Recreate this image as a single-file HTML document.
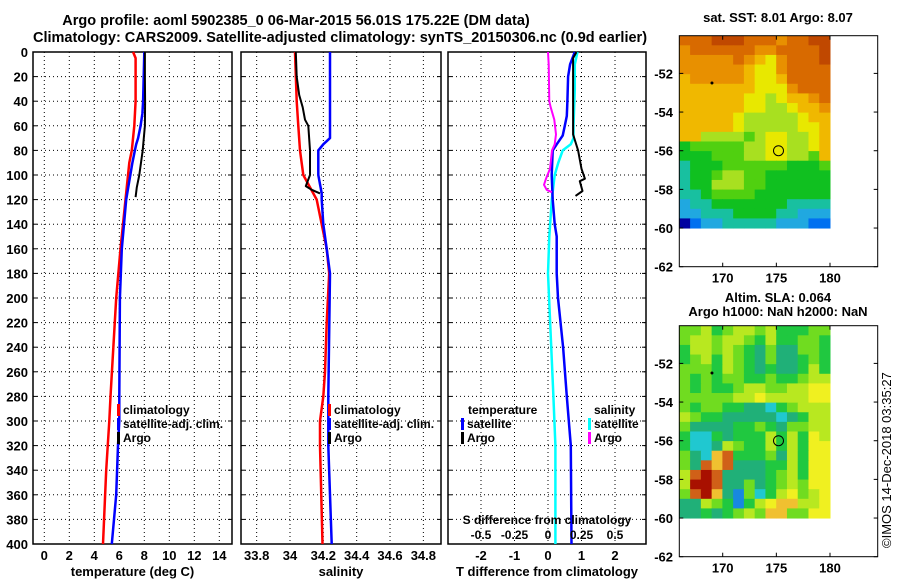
<!DOCTYPE html>
<html><head><meta charset="utf-8"><style>
body{margin:0;background:#fff;}
svg text{font-family:"Liberation Sans",Arial,sans-serif;font-weight:bold;font-size:13px;fill:#000;}
svg text.lg{font-size:12px;}
</style></head><body>
<svg id="s" width="900" height="580" xmlns="http://www.w3.org/2000/svg">
<text x="296" y="25" text-anchor="middle" style="font-size:14.5px">Argo profile: aoml 5902385_0 06-Mar-2015 56.01S 175.22E (DM data)</text>
<text x="340" y="42" text-anchor="middle" style="font-size:14.5px">Climatology: CARS2009. Satellite-adjusted climatology: synTS_20150306.nc (0.9d earlier)</text>
<text x="778" y="22" text-anchor="middle">sat. SST: 8.01 Argo: 8.07</text>
<text x="778" y="302" text-anchor="middle">Altim. SLA: 0.064</text>
<text x="778" y="316" text-anchor="middle">Argo h1000: NaN h2000: NaN</text>
<text transform="translate(891,548) rotate(-90)" style="font-weight:normal;font-size:13px">©IMOS 14-Dec-2018 03:35:27</text>
</svg>
<script>
// ---- data ----
const depthTicks=[0,20,40,60,80,100,120,140,160,180,200,220,240,260,280,300,320,340,360,380,400];
const tempTicks=[0,2,4,6,8,10,12,14];
const salTicks=[33.8,34,34.2,34.4,34.6,34.8];
const tdiffTicks=[-2,-1,0,1,2];
const sdiffTicks=[-0.5,-0.25,0,0.25,0.5];
const tClimDepth=[0,5,40,60,80,90,120,160,200,280,300,340,400];
const tClimVal=[7.1,7.3,7.3,7.2,7.0,6.8,6.5,6.1,5.75,5.3,5.2,4.95,4.7];
const tSatDepth=[0,20,40,50,60,70,75,80,90,120,160,200,280,300,320,360,400];
const tSatVal=[8.0,7.95,7.9,7.85,7.7,7.5,7.35,7.25,7.05,6.55,6.2,6.05,6.0,6.0,5.9,5.75,5.4];
const tArgoDepth=[0,20,40,60,80,100,110,118];
const tArgoVal=[8.05,8.05,8.06,8.05,7.87,7.6,7.4,7.3];
const sClimDepth=[0,40,60,80,100,120,140,160,180,220,260,280,300,320,400];
const sClimVal=[34.03,34.04,34.05,34.06,34.08,34.16,34.19,34.22,34.235,34.22,34.21,34.2,34.18,34.18,34.195];
const sSatDepth=[0,60,70,75,80,100,115,120,140,160,180,280,320,360,400];
const sSatVal=[34.24,34.24,34.24,34.2,34.17,34.17,34.19,34.19,34.2,34.22,34.24,34.23,34.23,34.24,34.25];
const sArgoDepth=[0,20,35,45,55,60,80,100,109,112,115];
const sArgoVal=[34.035,34.04,34.055,34.076,34.09,34.11,34.12,34.12,34.095,34.13,34.18];
const dtSatDepth=[0,10,20,40,52,60,68,75,80,100,120,140,150,180,200,240,280,300,320,400];
const dtSatVal=[0.8,0.66,0.6,0.58,0.56,0.5,0.44,0.26,0.14,0.11,0.14,0.2,0.26,0.26,0.3,0.45,0.56,0.62,0.68,0.7];
const dtArgoDepth=[0,5,50,67,80,95,103,105,113,117];
const dtArgoVal=[0.85,0.75,0.75,0.75,0.9,1.0,1.1,0.95,1.03,0.82];
const dsSatDepth=[0,10,30,60,70,75,80,90,100,120,150,180,280,320,400];
const dsSatVal=[0.22,0.2,0.2,0.19,0.19,0.17,0.11,0.077,0.05,0.028,0.01,0.0,0.04,0.055,0.055];
const dsArgoDepth=[0,10,40,45,55,67,75,80,95,103,108,112,114];
const dsArgoVal=[0,0.005,0.01,0.02,0.047,0.06,0.05,0.03,0.015,-0.015,-0.03,-0.01,0.028];
const sstGrid=["AAABBBAAA9AABB","9AAAAAA99AAAAB","99999A9879AAAB","9999998779AAAA","8999998778AAAA","88888887779AAA","8888887767889A","88888877667889","88888766666788","88888766666778","88666656776678","45555566776678","44455566776658","34445555554445","34456655444444","34466655444444","33455554444444","23344444443333","22333444433222","01223333322211"];
const slaGrid=["44534554533344","45545543533443","35545432422443","34535432422343","44435432322353","43434433433455","43433455445566","44444556555566","43443322134555","54332222212355","42222334324455","31132333535365","31125433535366","42178333425366","42878222335366","58982222345366","59982242345466","48972041356456","22543035677556","22323454774466"];
const mapLonTicks=[170,175,180];
const mapLatTicks=[-52,-54,-56,-58,-60,-62];
const argoLon=175.2, argoLat=-56.0;
// ---- drawing ----
const S=document.getElementById('s');
const NS='http://www.w3.org/2000/svg';
function mk(tag,attrs,parent){const e=document.createElementNS(NS,tag);for(const k in attrs)e.setAttribute(k,attrs[k]);(parent||S).appendChild(e);return e;}
const Y0=52,Y1=544;
const yD=d=>Y0+(d/400)*(Y1-Y0);
const panels=[
 {x0:33,x1:232,f:v=>44.3+12.5*v,ticks:tempTicks,lab:v=>String(v),title:'temperature (deg C)',name:'temperature-panel'},
 {x0:241,x1:441,f:v=>290+166.7*(v-34),ticks:salTicks,lab:v=>String(v),title:'salinity',name:'salinity-panel'},
 {x0:448,x1:646,f:v=>548+33.5*v,ticks:tdiffTicks,lab:v=>String(v),title:'T difference from climatology',name:'difference-panel'}
];
panels.forEach((p,i)=>{
 const g=mk('g',{});
 
 
 p.ticks.forEach(t=>{const x=p.f(t);
  const l=mk('line',{x1:x,x2:x,y1:Y0,y2:Y1,stroke:'#000','stroke-width':1,'stroke-dasharray':'1,3'},g);
  
  
  const tx=mk('text',{x:x,y:560,'text-anchor':'middle'},g);tx.textContent=p.lab(t);
  
  
 });
 depthTicks.forEach(d=>{const y=yD(d);
  if(d>0&&d<400){const l=mk('line',{x1:p.x0,x2:p.x1,y1:y,y2:y,stroke:'#000','stroke-width':1,'stroke-dasharray':'1,3'},g);
  
  }
  mk('line',{x1:p.x0,x2:p.x0+4,y1:y,y2:y,stroke:'#000'},g);
  mk('line',{x1:p.x1-4,x2:p.x1,y1:y,y2:y,stroke:'#000'},g);
  if(i==0){const tx=mk('text',{x:28,y:y+5,'text-anchor':'end'},g);tx.textContent=d;
   
   }
 });
 const r=mk('rect',{x:p.x0,y:Y0,width:p.x1-p.x0,height:Y1-Y0,fill:'none',stroke:'#000','stroke-width':1.5},g);
 
 
 const tt=mk('text',{x:(p.x0+p.x1)/2,y:576,'text-anchor':'middle'},g);tt.textContent=p.title;
 
 
});
function line(ds,vs,fx,col,w,name){
 let d='';ds.forEach((dd,k)=>{d+=(k?'L':'M')+fx(vs[k]).toFixed(1)+','+yD(dd).toFixed(1);});
 const e=mk('path',{d:d,fill:'none',stroke:col,'stroke-width':w,'stroke-linejoin':'round'});
 
 
}
const fT=panels[0].f,fS=panels[1].f,fDT=panels[2].f,fDS=v=>548+134*v;
line(tClimDepth,tClimVal,fT,'#ff0000',2.5,'temperature-climatology-line');
line(tSatDepth,tSatVal,fT,'#0000ff',2.5,'temperature-satellite-line');
line(tArgoDepth,tArgoVal,fT,'#000',2,'temperature-argo-line');
line(sClimDepth,sClimVal,fS,'#ff0000',2.5,'salinity-climatology-line');
line(sSatDepth,sSatVal,fS,'#0000ff',2.5,'salinity-satellite-line');
line(sArgoDepth,sArgoVal,fS,'#000',2,'salinity-argo-line');
line(dsSatDepth,dsSatVal,fDS,'#00ffff',2.5,'salinity-diff-satellite-line');
line(dtSatDepth,dtSatVal,fDT,'#0000ff',2.5,'temperature-diff-satellite-line');
line(dsArgoDepth,dsArgoVal,fDS,'#ff00ff',2,'salinity-diff-argo-line');
line(dtArgoDepth,dtArgoVal,fDT,'#000',2,'temperature-diff-argo-line');
// S diff axis
sdiffTicks.forEach(t=>{const tx=mk('text',{x:fDS(t),y:539,'text-anchor':'middle','class':'lg'});tx.textContent=String(t);
 
 });
{const tx=mk('text',{x:547,y:524,'text-anchor':'middle','class':'lg'});tx.textContent='S difference from climatology';
 
 }
// legends
function leg(x,y,col,label,name){
 const m=mk('rect',{x:x,y:y-10,width:3,height:12,fill:col});
 
 
 const t=mk('text',{x:x+6,y:y,'class':'lg'});t.textContent=label;
 
 
}
leg(117,414,'#ff0000','climatology','legend-climatology');
leg(117,428,'#0000ff','satellite-adj. clim.','legend-satellite');
leg(117,442,'#000','Argo','legend-argo');
leg(328,414,'#ff0000','climatology','legend-sal-climatology');
leg(328,428,'#0000ff','satellite-adj. clim.','legend-sal-satellite');
leg(328,442,'#000','Argo','legend-sal-argo');
{const t=mk('text',{x:468,y:414,'class':'lg'});t.textContent='temperature';}
{const t=mk('text',{x:594,y:414,'class':'lg'});t.textContent='salinity';}
leg(461,428,'#0000ff','satellite','legend-t-satellite');
leg(461,442,'#000','Argo','legend-t-argo');
leg(588,428,'#00ffff','satellite','legend-s-satellite');
leg(588,442,'#ff00ff','Argo','legend-s-argo');
// maps
const sstPal={'0':'#0000a0','1':'#0070f0','2':'#20a8e0','3':'#18c0a0','4':'#10c020','5':'#50d010','6':'#a8e020','7':'#e8e800','8':'#f0b800','9':'#e89000','A':'#d86a00','B':'#c04800'};
const slaPal={'0':'#1888e0','1':'#20c8d0','2':'#20b078','3':'#20c840','4':'#70dc20','5':'#b8e820','6':'#f0f020','7':'#f0c030','8':'#d06018','9':'#a81000'};
function map(top,bottom,grid,pal,name){
 const x0=679.3,x1=877.7;
 const fx=lon=>722.7+10.73*(lon-170);
 const fy=lat=>top+(bottom-top)*(-50.05-lat)/11.95;
 const g=mk('g',{});
 
 
 const rows=grid.length,cols=grid[0].length;
 const lonA=165.96,lonB=180,latA=-50.05,latB=-60;
 grid.forEach((row,ri)=>{for(let ci=0;ci<cols;ci++){
  const la=lonA+(lonB-lonA)*ci/cols, lb=lonA+(lonB-lonA)*(ci+1)/cols;
  const ta=latA+(latB-latA)*ri/rows, tb=latA+(latB-latA)*(ri+1)/rows;
  const c=mk('rect',{x:fx(la),y:fy(ta),width:fx(lb)-fx(la)+0.5,height:fy(tb)-fy(ta)+0.5,fill:pal[row[ci]]},g);
  
  
 }});
 mk('circle',{cx:fx(169),cy:fy(-52.5),r:1.5,fill:'#000'},g);
 const ci=mk('circle',{cx:fx(argoLon),cy:fy(argoLat),r:5,fill:'none',stroke:'#000','stroke-width':1},g);
 
 
 mk('rect',{x:x0,y:top,width:x1-x0,height:bottom-top,fill:'none',stroke:'#000','stroke-width':1},g);
 mapLonTicks.forEach(l=>{const x=fx(l);
  mk('line',{x1:x,x2:x,y1:bottom,y2:bottom-4,stroke:'#000'},g);
  mk('line',{x1:x,x2:x,y1:top,y2:top+4,stroke:'#000'},g);
  const t=mk('text',{x:x,y:bottom+16,'text-anchor':'middle'},g);t.textContent=l;
  
  });
 mapLatTicks.forEach(l=>{const y=fy(l);
  mk('line',{x1:x0,x2:x0+4,y1:y,y2:y,stroke:'#000'},g);
  mk('line',{x1:x1,x2:x1-4,y1:y,y2:y,stroke:'#000'},g);
  const t=mk('text',{x:673,y:y+5,'text-anchor':'end'},g);t.textContent=l;
  
  });
}
map(35.7,266.7,sstGrid,sstPal,'sst-map');
map(325.7,556.7,slaGrid,slaPal,'sla-map');
</script>
</body></html>
